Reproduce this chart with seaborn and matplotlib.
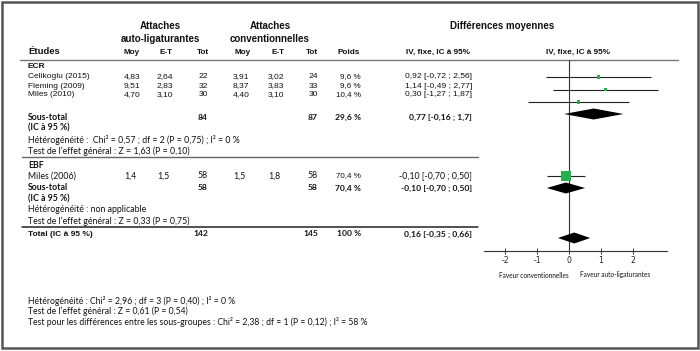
import numpy as np
import pandas as pd
import matplotlib.pyplot as plt
import seaborn as sns
from matplotlib.patches import Rectangle

# ---- data ----
studies = ['Celikoglu (2015)', 'Fleming (2009)', 'Miles (2010)', 'Miles (2006)']
al_moy = ['4,83', '9,51', '4,70', '1,4']
al_et = ['2,64', '2,83', '3,10', '1,5']
al_tot = [22, 32, 30, 58]
cv_moy = ['3,91', '8,37', '4,40', '1,5']
cv_et = ['3,02', '3,83', '3,10', '1,8']
cv_tot = [24, 33, 30, 58]
poids = [9.6, 9.6, 10.4, 70.4]
md = [0.92, 1.14, 0.30, -0.10]
ci_lo = [-0.72, -0.49, -1.27, -0.70]
ci_hi = [2.56, 2.77, 1.87, 0.50]
iv_txt = ['0,92 [-0,72 ; 2,56]', '1,14 [-0,49 ; 2,77]', '0,30 [-1,27 ; 1,87]',
          '-0,10 [-0,70 ; 0,50]']

# pooled estimates: ECR, EBF, total
pool_md = [0.77, -0.10, 0.16]
pool_lo = [-0.16, -0.70, -0.35]
pool_hi = [1.70, 0.50, 0.66]
pool_al = [84, 58, 142]
pool_cv = [87, 58, 145]
pool_poids = [29.6, 70.4, 100]
pool_txt = ['0,77 [-0,16 ; 1,7]', '-0,10 [-0,70 ; 0,50]', '0,16 [-0,35 ; 0,66]']

xticks = [-2, -1, 0, 1, 2]

# ---- layout (pixel rows) ----
study_text_y = [77, 86, 95, 176]
study_plot_y = [77, 89.5, 102, 176]
pool_text_y = [117, 188, 234]
pool_plot_y = [114, 188, 238]

ARIAL = 'Liberation Sans'
CAL = 'Lato'
green = '#25b24a'

sns.set_style('white')
plt.rcParams['axes.unicode_minus'] = False

fig = plt.figure(figsize=(7, 3.51), dpi=100)
tx = fig.add_axes([0, 0, 1, 1])
tx.set_xlim(0, 700)
tx.set_ylim(351, 0)
tx.axis('off')


def t(x, y, s, ha='left', bold=False, fam=ARIAL, size=5.9):
    tx.text(x, y, s, ha=ha, va='center', fontsize=size, family=fam,
            fontweight='bold' if bold else 'normal', color='#111')


def fr_pct(v):
    return (f'{v:.1f}'.replace('.', ',') if v != 100 else '100') + ' %'


# frame
tx.add_patch(Rectangle((1.5, 1.5), 696, 346, fill=False, ec='#555', lw=1.8))

# header
t(160, 26, 'Attaches', 'center', True, size=7.0)
t(160, 39, 'auto-ligaturantes', 'center', True, size=7.0)
t(270, 26, 'Attaches', 'center', True, size=7.0)
t(270, 39, 'conventionnelles', 'center', True, size=7.0)
t(502, 26, 'Différences moyennes', 'center', True, size=7.0)
t(28, 52, 'Études', bold=True, size=6.8)
for x, s in zip([132, 166, 203, 243, 278, 312, 349, 438, 578],
                ['Moy', 'E-T', 'Tot', 'Moy', 'E-T', 'Tot', 'Poids',
                 'IV, fixe, IC à 95%', 'IV, fixe, IC à 95%']):
    t(x, 52, s, 'center', True, size=5.9)
tx.plot([20, 678], [59.5, 59.5], color='#777', lw=1)

# ECR group
t(28, 66, 'ECR', bold=True, size=6.0)
for i in range(4):
    y = study_text_y[i]
    fam = ARIAL if i < 3 else CAL
    sz = 6.1 if i < 3 else 6.3
    t(28, y, studies[i], fam=fam, size=6.0 if i < 3 else 6.3)
    t(124, y, al_moy[i], fam=fam, size=sz)
    t(157, y, al_et[i], fam=fam, size=sz)
    t(208, y, str(al_tot[i]), 'right', fam=fam, size=sz)
    t(233, y, cv_moy[i], fam=fam, size=sz)
    t(268, y, cv_et[i], fam=fam, size=sz)
    t(318, y, str(cv_tot[i]), 'right', fam=fam, size=sz)
    t(361, y, fr_pct(poids[i]), 'right', size=5.8)
    t(472, y, iv_txt[i], 'right', fam=fam, size=sz)

for k in range(3):
    y = pool_text_y[k]
    if k < 2:
        t(28, y, 'Sous-total', bold=True, fam=CAL, size=6.3)
        t(28, y + 10.5, '(IC à 95 %)', bold=True, fam=CAL, size=6.3)
    else:
        t(28, y, 'Total (IC à 95 %)', bold=True, size=6.0)
    t(208, y, str(pool_al[k]), 'right', True, CAL, 6.1)
    t(318, y, str(pool_cv[k]), 'right', True, CAL, 6.1)
    t(361, y, fr_pct(pool_poids[k]), 'right', True, CAL, 6.1)
    t(472, y, pool_txt[k], 'right', True, CAL, 6.1)

t(28, 140, 'Hétérogénéité :  Chi² = 0,57 ; df = 2 (P = 0,75) ; I² = 0 %', fam=CAL, size=6.3)
t(28, 151, 'Test de l’effet général : Z = 1,63 (P = 0,10)', fam=CAL, size=6.3)
tx.plot([22, 478], [157, 157], color='#666', lw=1)
t(28, 165, 'EBF', bold=True, fam=CAL, size=6.3)
t(28, 210, 'Hétérogénéité : non applicable', fam=CAL, size=6.3)
t(28, 221, 'Test de l’effet général : Z = 0,33 (P = 0,75)', fam=CAL, size=6.3)
tx.plot([22, 478], [227, 227], color='#222', lw=1.1)

# footnotes
t(28, 301, 'Hétérogénéité : Chi² = 2,96 ; df = 3 (P = 0,40) ; I² = 0 %', fam=CAL, size=6.2)
t(28, 311.5, 'Test de l’effet général : Z = 0,61 (P = 0,54)', fam=CAL, size=6.2)
t(28, 322, 'Test pour les différences entre les sous-groupes : Chi² = 2,38 ; '
           'df = 1 (P = 0,12) ; I² = 58 %', fam=CAL, size=6.2)

t(534, 275, 'Faveur conventionnelles', 'center', fam=CAL, size=4.7)
t(615, 275, 'Faveur auto-ligaturantes', 'center', fam=CAL, size=4.7)

# ---- forest plot ----
fx = fig.add_axes([484 / 700, (351 - 251) / 351, (667 - 484) / 700, (251 - 60) / 351])
fx.patch.set_visible(False)

fx.axvline(0, color='#333', lw=0.8, zorder=1)
fx.hlines(study_plot_y, ci_lo, ci_hi, color='#222', lw=0.8, zorder=2)

df = pd.DataFrame({'md': md, 'y': study_plot_y, 'w': poids})
sns.scatterplot(data=df, x='md', y='y', size='w', sizes=(6, 55), size_norm=(9.6, 70.4),
                marker='s', color=green, linewidth=0, legend=False, ax=fx, zorder=3)

for m, lo, hi, y in zip(pool_md, pool_lo, pool_hi, pool_plot_y):
    fx.fill([lo, m, hi, m], [y, y - 5.5, y, y + 5.5], color='black', lw=0, zorder=3)

fx.set_xlim(-2.66, 3.06)
fx.set_ylim(251, 60)
fx.set_xlabel('')
fx.set_ylabel('')
fx.set_yticks([])
fx.set_xticks(xticks)
fx.set_xticklabels([str(v) for v in xticks])
for sp in ['top', 'left', 'right']:
    fx.spines[sp].set_visible(False)
fx.spines['bottom'].set_color('#333')
fx.spines['bottom'].set_linewidth(0.8)
fx.tick_params(axis='x', direction='inout', length=5, width=0.7, color='#333',
               labelsize=5.6, pad=1, bottom=True)
for lab in fx.get_xticklabels():
    lab.set_family(['Liberation Sans Narrow', 'DejaVu Sans'])

fig.savefig('out.png', dpi=100)
